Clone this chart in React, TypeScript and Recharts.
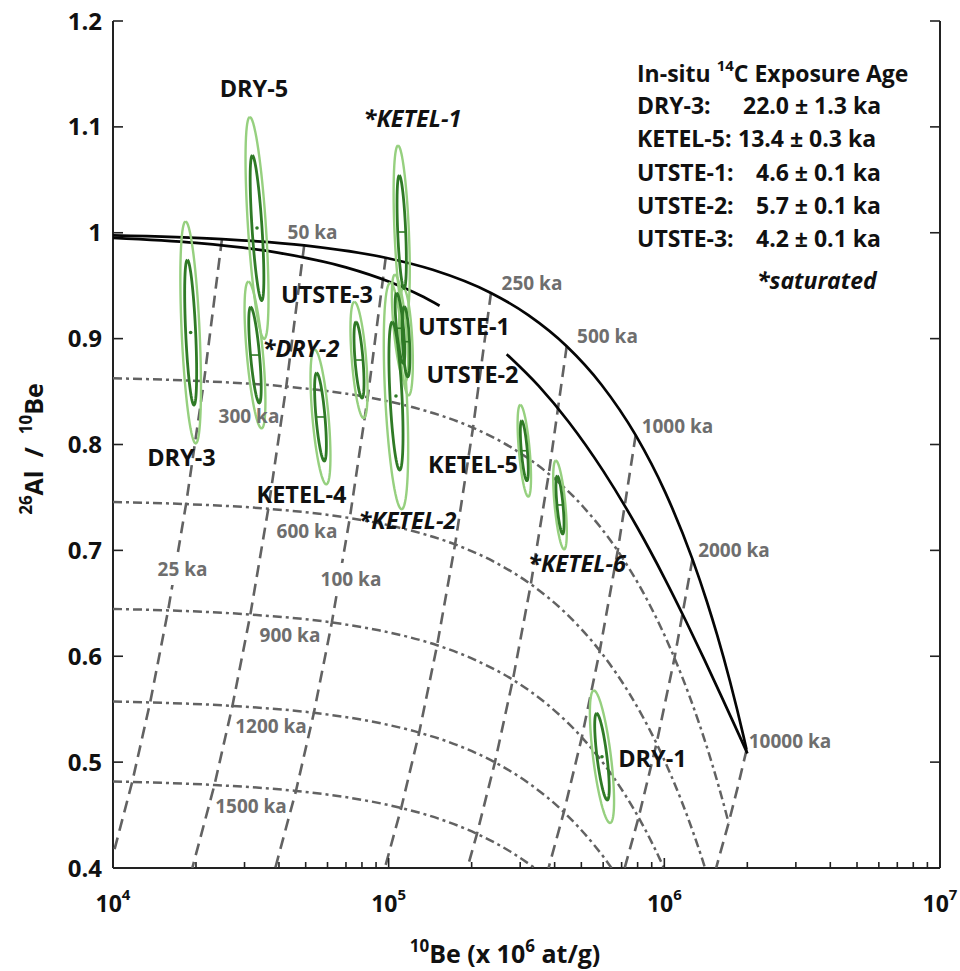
import React from 'react';
import { ComposedChart, Scatter, XAxis, YAxis } from 'recharts';

type Pt = [number, number];

const FONT = "'Open Sans', Lato, 'DejaVu Sans', sans-serif";

// ---------- axes ----------
const xTicks = [
  10000, 20000, 30000, 40000, 50000, 60000, 70000, 80000, 90000,
  100000, 200000, 300000, 400000, 500000, 600000, 700000, 800000, 900000,
  1000000, 2000000, 3000000, 4000000, 5000000, 6000000, 7000000, 8000000, 9000000,
  10000000,
];
const yTicks = [0.4, 0.5, 0.6, 0.7, 0.8, 0.9, 1, 1.1, 1.2];

// ---------- constant exposure curve (10Be at/g, 26Al/10Be) ----------
const exposureCurve: Pt[] = [
  [10000, 0.9976], [24845, 0.994], [49381, 0.9881], [97545, 0.9764], [144516, 0.965],
  [235015, 0.9431], [321102, 0.9222], [442430, 0.8928], [590682, 0.8567], [787047, 0.8088],
  [1007016, 0.755], [1264558, 0.6917], [1427417, 0.6515], [1554270, 0.6201], [1730042, 0.5764],
  [1836685, 0.5497], [1940643, 0.5236], [1987676, 0.5117],
];

// ---------- steady erosion curve (two visible pieces) ----------
const erosionCurveA: Pt[] = [
  [10000, 0.9952], [20000, 0.9904], [40000, 0.981], [70000, 0.9673], [100000, 0.9539],
  [130000, 0.9409], [153000, 0.9311],
];
const erosionCurveB: Pt[] = [
  [268000, 0.8853], [350000, 0.8553], [450000, 0.8213], [600000, 0.7751], [800000, 0.7211],
  [1000000, 0.6741], [1200000, 0.6328], [1400000, 0.5963], [1600000, 0.5638], [1800000, 0.5347],
  [1900000, 0.5212], [2001200, 0.5082],
];

// ---------- burial paths starting from exposure ages ----------
const path25: Pt[] = [[24845, 0.994], [21386, 0.8598], [18409, 0.7437], [15846, 0.6433], [13640, 0.5564], [11741, 0.4813], [10000, 0.4121]];
const path50: Pt[] = [[49381, 0.9881], [42506, 0.8547], [36589, 0.7393], [31495, 0.6394], [27111, 0.5531], [23336, 0.4784], [19395, 0.4]];
const path100: Pt[] = [[97545, 0.9764], [83965, 0.8446], [72276, 0.7305], [62214, 0.6319], [53553, 0.5466], [46098, 0.4728], [38784, 0.4]];
const path250: Pt[] = [[235015, 0.9431], [202298, 0.8158], [174135, 0.7056], [149893, 0.6104], [129025, 0.5279], [111063, 0.4567], [96858, 0.4]];
const path500: Pt[] = [[442430, 0.8928], [380838, 0.7722], [327819, 0.668], [282182, 0.5778], [242898, 0.4998], [209083, 0.4323], [192967, 0.4]];
const path1000: Pt[] = [[787047, 0.8088], [677478, 0.6996], [583164, 0.6052], [501979, 0.5234], [432096, 0.4528], [380153, 0.4]];
const path2000: Pt[] = [[1264558, 0.6917], [1088513, 0.5983], [936975, 0.5176], [806536, 0.4477], [717936, 0.4]];
const path10000: Pt[] = [[1987676, 0.5117], [1844137, 0.4759], [1710963, 0.4426], [1541101, 0.4]];

// ---------- burial isochrons ----------
const iso300: Pt[] = [
  [10000, 0.8625], [21386, 0.8598], [42506, 0.8547], [83965, 0.8446], [124397, 0.8347], [202297, 0.8158],
  [276400, 0.7977], [380838, 0.7722], [508451, 0.741], [677478, 0.6996], [866824, 0.6531], [1088513, 0.5983],
  [1228700, 0.5636], [1337893, 0.5364], [1489195, 0.4986], [1580992, 0.4755], [1670478, 0.4529], [1710963, 0.4426],
];
const iso600: Pt[] = [
  [10000, 0.7457], [18409, 0.7437], [36589, 0.7393], [72276, 0.7305], [107079, 0.722], [174135, 0.7056],
  [237921, 0.69], [327819, 0.668], [437667, 0.641], [583164, 0.6052], [746150, 0.5649], [936975, 0.5176],
  [1057647, 0.4875], [1151633, 0.464], [1281877, 0.4312], [1360894, 0.4113], [1405385, 0.4],
];
const iso900: Pt[] = [
  [10000, 0.6447], [15846, 0.6433], [31495, 0.6394], [62214, 0.6319], [92172, 0.6245], [149893, 0.6104],
  [204799, 0.5968], [282182, 0.5778], [376737, 0.5544], [501979, 0.5234], [642275, 0.4886], [806536, 0.4477],
  [910407, 0.4217], [991314, 0.4013], [996452, 0.4],
];
const iso1200: Pt[] = [
  [10000, 0.5573], [13640, 0.5564], [27111, 0.5531], [53553, 0.5466], [79341, 0.5402], [129025, 0.5279],
  [176288, 0.5163], [242898, 0.4998], [324290, 0.4796], [432096, 0.4528], [552861, 0.4226], [604772, 0.4097],
  [643338, 0.4],
];
const iso1500: Pt[] = [
  [10000, 0.4817], [11741, 0.4813], [23336, 0.4784], [46098, 0.4728], [68295, 0.4673], [111063, 0.4567],
  [151746, 0.4466], [209083, 0.4323], [279144, 0.4148], [338839, 0.4],
];

// ---------- samples: centre, 1-sigma ratio half-range, tilt & half-width (log10 decades) ----------
const sampleNames = ['DRY-5', 'DRY-3', 'DRY-2', 'KETEL-4', 'UTSTE-3', 'KETEL-2', 'KETEL-1', 'UTSTE-1', 'UTSTE-2', 'KETEL-5', 'KETEL-6', 'DRY-1'];
const sampleBe = [33300, 19130, 32740, 56580, 78060, 106300, 111500, 109900, 115600, 310500, 418300, 594000];
const sampleRatio = [1.0045, 0.9058, 0.8845, 0.826, 0.8798, 0.8458, 1.0007, 0.9098, 0.8971, 0.7941, 0.7429, 0.5051];
const sampleRatioErr = [0.0685, 0.0685, 0.0453, 0.0416, 0.0359, 0.0699, 0.0534, 0.0331, 0.0331, 0.0283, 0.0274, 0.0409];
const sampleTilt = [-0.017, -0.012, -0.0156, -0.0138, -0.0109, -0.0134, -0.0087, -0.012, -0.0062, -0.0094, -0.0098, -0.0192];
const sampleHalfWidth = [0.0181, 0.0181, 0.0163, 0.0163, 0.0145, 0.0218, 0.0145, 0.0127, 0.0127, 0.0109, 0.0109, 0.0181];
const dotMarked = ['DRY-5', 'DRY-3', 'KETEL-2', 'DRY-1'];

// ---------- annotation texts (anchored in data coordinates) ----------
const sampleLabels = [
  { x: 32470, y: 1.1363, text: 'DRY-5' },
  { x: 122030, y: 1.1074, text: '*KETEL-1' },
  { x: 17720, y: 0.7877, text: 'DRY-3' },
  { x: 48080, y: 0.8902, text: '*DRY-2' },
  { x: 59750, y: 0.9412, text: 'UTSTE-3' },
  { x: 187640, y: 0.9115, text: 'UTSTE-1' },
  { x: 201450, y: 0.8656, text: 'UTSTE-2' },
  { x: 202290, y: 0.7806, text: 'KETEL-5' },
  { x: 48280, y: 0.7528, text: 'KETEL-4' },
  { x: 117030, y: 0.7277, text: '*KETEL-2' },
  { x: 482220, y: 0.6871, text: '*KETEL-6' },
  { x: 905940, y: 0.503, text: 'DRY-1' },
];
const ageLabels = [
  { x: 52930, y: 1.0007, text: '50 ka' },
  { x: 331100, y: 0.9525, text: '250 ka' },
  { x: 622000, y: 0.9025, text: '500 ka' },
  { x: 1116000, y: 0.8175, text: '1000 ka' },
  { x: 1789000, y: 0.7004, text: '2000 ka' },
  { x: 2857000, y: 0.52, text: '10000 ka' },
  { x: 17870, y: 0.6824, text: '25 ka' },
  { x: 73010, y: 0.673, text: '100 ka' },
  { x: 31140, y: 0.8265, text: '300 ka' },
  { x: 50550, y: 0.7183, text: '600 ka' },
  { x: 43860, y: 0.6201, text: '900 ka' },
  { x: 37430, y: 0.5341, text: '1200 ka' },
  { x: 31670, y: 0.4586, text: '1500 ka' },
];
const boxedAgeLabels = ['25 ka', '100 ka'];

const legendRows = [
  { name: 'DRY-3:', value: '22.0 ± 1.3 ka' },
  { name: 'KETEL-5:', value: '13.4 ± 0.3 ka' },
  { name: 'UTSTE-1:', value: '4.6 ± 0.1 ka' },
  { name: 'UTSTE-2:', value: '5.7 ± 0.1 ka' },
  { name: 'UTSTE-3:', value: '4.2 ± 0.1 ka' },
];

// ---------- styles ----------
const BLACK = '#050505';
const GREY = '#626262';
const GREY_TEXT = '#6e6e6e';
const LIGHT_GREEN = '#96d07f';
const DARK_GREEN = '#2f7a26';
const LIGHT_K = 1.53;
const LIGHT_KW = 1.8;

const rows = (pts: Pt[]) => pts.map(([x, y]) => ({ x, y }));

const ellipse = (i: number, k: number, kw: number) => {
  const lx0 = Math.log10(sampleBe[i]);
  const out: { x: number; y: number }[] = [];
  const n = 72;
  for (let j = 0; j <= n; j++) {
    const th = (j / n) * 2 * Math.PI;
    const lx = lx0 + k * sampleTilt[i] * Math.cos(th) + kw * sampleHalfWidth[i] * Math.sin(th);
    out.push({ x: Math.pow(10, lx), y: sampleRatio[i] + k * sampleRatioErr[i] * Math.cos(th) });
  }
  return out;
};

const NoShape = () => <g />;

const lineSeries = (
  key: string,
  data: { x: number; y: number }[],
  stroke: string,
  width: number,
  dash?: string,
  curve: string = 'linear'
) => (
  <Scatter
    key={key}
    xAxisId="b"
    yAxisId="l"
    data={data}
    line={{ stroke, strokeWidth: width, strokeDasharray: dash, strokeLinejoin: 'round' }}
    lineType="joint"
    lineJointType={curve as any}
    shape={NoShape}
    isAnimationActive={false}
  />
);

const isMajor = (v: number) => {
  const e = Math.round(Math.log10(v));
  return Math.abs(Math.pow(10, e) - v) < 1e-6 * v;
};

const BottomTick = (props: any) => {
  const { x, y, payload } = props;
  const v = payload.value as number;
  const major = isMajor(v);
  const e = Math.round(Math.log10(v));
  return (
    <g>
      <line x1={x} x2={x} y1={y} y2={y - (major ? 10 : 6)} stroke="#222" strokeWidth={1.6} />
      {major && (
        <text x={x} y={y + 44} textAnchor="middle" fontFamily={FONT} fontWeight={700} fontSize={23} fill="#111">
          10
          <tspan dy={-12} fontSize={15}>{e}</tspan>
        </text>
      )}
    </g>
  );
};

const TopTick = (props: any) => {
  const { x, y, payload } = props;
  const major = isMajor(payload.value as number);
  return <line x1={x} x2={x} y1={y} y2={y + (major ? 10 : 6)} stroke="#222" strokeWidth={1.6} />;
};

const LeftTick = (props: any) => {
  const { x, y, payload } = props;
  return (
    <g>
      <line x1={x} x2={x + 10} y1={y} y2={y} stroke="#222" strokeWidth={1.6} />
      <text x={x - 11} y={y + 8.5} textAnchor="end" fontFamily={FONT} fontWeight={700} fontSize={24} fill="#111">
        {String(payload.value)}
      </text>
    </g>
  );
};

const RightTick = (props: any) => {
  const { x, y } = props;
  return <line x1={x} x2={x - 10} y1={y} y2={y} stroke="#222" strokeWidth={1.6} />;
};

const SampleLabel = (props: any) => {
  const { cx, cy, payload } = props;
  const italic = String(payload.text).startsWith('*');
  return (
    <text x={cx} y={cy + 8.4} textAnchor="middle" fontFamily={FONT} fontWeight={700} fontStyle={italic ? 'italic' : 'normal'} fontSize={23.5} fill="#111">
      {payload.text}
    </text>
  );
};

const AgeLabel = (props: any) => {
  const { cx, cy, payload } = props;
  const t = String(payload.text);
  const boxed = boxedAgeLabels.includes(t);
  const w = t.length * 10.5 + 10;
  return (
    <g>
      {boxed && <rect x={cx - w / 2} y={cy - 16} width={w} height={32} fill="#ffffff" />}
      <text x={cx} y={cy + 6.8} textAnchor="middle" fontFamily={FONT} fontWeight={700} fontSize={19} fill={GREY_TEXT}>
        {t}
      </text>
    </g>
  );
};

const Dot = (props: any) => {
  const { cx, cy } = props;
  return <circle cx={cx} cy={cy} r={1.8} fill={DARK_GREEN} />;
};

export default function App() {
  const isoSeries = [iso300, iso600, iso900, iso1200, iso1500];
  const pathSeries = [path25, path50, path100, path250, path500, path1000, path2000, path10000];
  const dotData = sampleNames
    .map((n, i) => ({ n, x: sampleBe[i], y: sampleRatio[i] }))
    .filter((d) => dotMarked.includes(d.n));
  const barSamples = sampleNames.map((n, i) => ({ n, i })).filter((d) => !dotMarked.includes(d.n));
  const valueX = [743, 738, 756, 756, 756];

  return (
    <div style={{ position: 'absolute', left: 0, top: 0, width: 960, height: 971, background: '#fff' }}>
      <ComposedChart width={960} height={971} margin={{ top: 21, right: 0, bottom: 0, left: 0 }}>
        <XAxis
          xAxisId="b"
          dataKey="x"
          type="number"
          scale="log"
          domain={[10000, 10000000]}
          ticks={xTicks}
          interval={0}
          allowDataOverflow
          height={103}
          tickSize={0}
          tickMargin={0}
          tickLine={false}
          axisLine={{ stroke: '#222', strokeWidth: 2 }}
          tick={<BottomTick />}
        />
        <XAxis
          xAxisId="t"
          orientation="top"
          dataKey="x"
          type="number"
          scale="log"
          domain={[10000, 10000000]}
          ticks={xTicks}
          interval={0}
          allowDataOverflow
          height={0}
          tickSize={0}
          tickMargin={0}
          tickLine={false}
          axisLine={{ stroke: '#222', strokeWidth: 2 }}
          tick={<TopTick />}
        />
        <YAxis
          yAxisId="l"
          dataKey="y"
          type="number"
          domain={[0.4, 1.2]}
          ticks={yTicks}
          interval={0}
          allowDataOverflow
          width={113}
          tickSize={0}
          tickMargin={0}
          tickLine={false}
          axisLine={{ stroke: '#222', strokeWidth: 2 }}
          tick={<LeftTick />}
        />
        <YAxis
          yAxisId="r"
          orientation="right"
          dataKey="y"
          type="number"
          domain={[0.4, 1.2]}
          ticks={yTicks}
          interval={0}
          allowDataOverflow
          width={20}
          tickSize={0}
          tickMargin={0}
          tickLine={false}
          axisLine={{ stroke: '#222', strokeWidth: 2 }}
          tick={<RightTick />}
        />

        {isoSeries.map((s, i) => lineSeries(`iso${i}`, rows(s), GREY, 2.5, '9 4 3 4', 'monotoneX'))}
        {pathSeries.map((s, i) => lineSeries(`path${i}`, rows(s), GREY, 2.6, '12 7'))}
        {lineSeries('exp', rows(exposureCurve), BLACK, 2.7, undefined, 'monotoneX')}
        {lineSeries('eroA', rows(erosionCurveA), BLACK, 2.7, undefined, 'monotoneX')}
        {lineSeries('eroB', rows(erosionCurveB), BLACK, 2.7, undefined, 'monotoneX')}

        {sampleNames.map((n, i) => lineSeries(`lg${n}`, ellipse(i, LIGHT_K, LIGHT_KW), LIGHT_GREEN, 2.4))}
        {sampleNames.map((n, i) => lineSeries(`dg${n}`, ellipse(i, 1, 1), DARK_GREEN, 2.8))}
        {barSamples.map(({ n, i }) =>
          lineSeries(
            `bar${n}`,
            [
              { x: sampleBe[i] * Math.pow(10, -sampleHalfWidth[i]), y: sampleRatio[i] },
              { x: sampleBe[i] * Math.pow(10, sampleHalfWidth[i]), y: sampleRatio[i] },
            ],
            DARK_GREEN,
            1.6
          )
        )}
        <Scatter xAxisId="b" yAxisId="l" data={dotData} shape={<Dot />} isAnimationActive={false} />

        <Scatter xAxisId="b" yAxisId="l" data={ageLabels} shape={<AgeLabel />} isAnimationActive={false} />
        <Scatter xAxisId="b" yAxisId="l" data={sampleLabels} shape={<SampleLabel />} isAnimationActive={false} />
      </ComposedChart>

      <svg width={960} height={971} style={{ position: 'absolute', left: 0, top: 0, pointerEvents: 'none' }}>
        <g fontFamily={FONT} fontWeight={700} fill="#111">
          <text x={505} y={963} textAnchor="middle" fontSize={25}>
            <tspan fontSize={17} dy={-11}>10</tspan>
            <tspan dy={11}>Be (x 10</tspan>
            <tspan fontSize={17} dy={-11}>6</tspan>
            <tspan dy={11}> at/g)</tspan>
          </text>
          <text transform="translate(43,449) rotate(-90)" textAnchor="middle" fontSize={25}>
            <tspan fontSize={17} dy={-11}>26</tspan>
            <tspan dy={11}>{'Al\u00a0 /\u00a0 '}</tspan>
            <tspan fontSize={17} dy={-11}>10</tspan>
            <tspan dy={11}>Be</tspan>
          </text>

          <text x={637} y={82} fontSize={23}>
            {'In-situ '}
            <tspan fontSize={15} dy={-11}>14</tspan>
            <tspan dy={11}>C Exposure Age</tspan>
          </text>
          {legendRows.map((r, i) => (
            <g key={r.name}>
              <text x={637} y={114 + i * 33.3} fontSize={23}>{r.name}</text>
              <text x={valueX[i]} y={114 + i * 33.3} fontSize={23}>{r.value}</text>
            </g>
          ))}
          <text x={757} y={289} fontSize={23} fontStyle="italic">*saturated</text>
        </g>
      </svg>
    </div>
  );
}
